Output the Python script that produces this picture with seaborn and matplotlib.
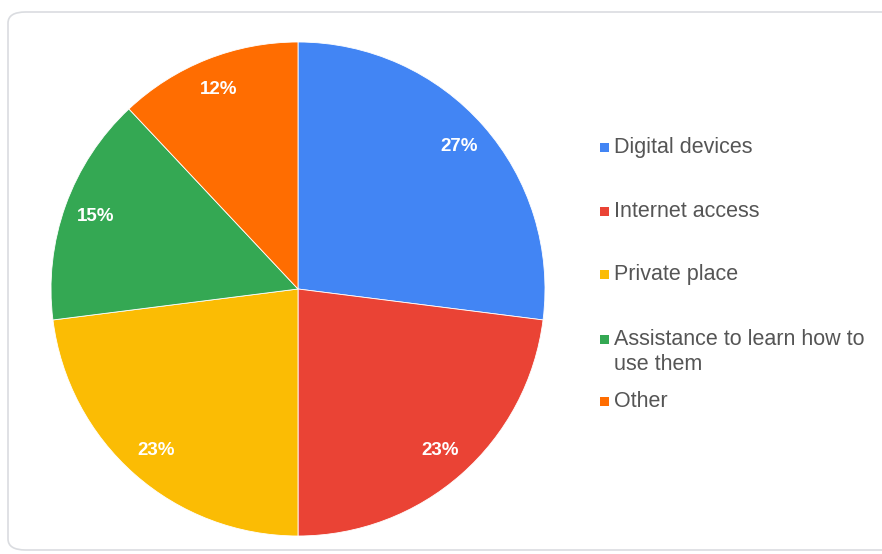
import matplotlib
matplotlib.use("Agg")
import matplotlib.pyplot as plt
from matplotlib.patches import FancyBboxPatch, Rectangle
import seaborn as sns

categories = ["Digital devices", "Internet access", "Private place",
              "Assistance to learn how to\nuse them", "Other"]
shares = [27, 23, 23, 15, 12]
colors = ["#4285F4", "#EA4335", "#FBBC04", "#34A853", "#FF6D01"]

sns.set_theme(style="white")
plt.rcParams["font.family"] = ["Liberation Sans", "DejaVu Sans"]

W, H = 882, 554
fig = plt.figure(figsize=(W / 100, H / 100), dpi=100)
fig.patch.set_facecolor("white")

# rounded card border behind everything
card = FancyBboxPatch((8 / W, 4 / H), (W + 20) / W, 538 / H,
                      boxstyle="round,pad=0,rounding_size=0.02",
                      transform=fig.transFigure, facecolor="white",
                      edgecolor="#dadce0", linewidth=1.2, zorder=-5)
fig.patches.append(card)

cx, cy, r = 298, 289, 247
ax = fig.add_axes([(cx - r) / W, (H - cy - r) / H, 2 * r / W, 2 * r / H])
ax.set_zorder(2)
ax.patch.set_alpha(0)
wedges, texts, autotexts = ax.pie(
    shares, colors=colors, startangle=90, counterclock=False,
    autopct="%d%%", pctdistance=0.87, radius=1,
    wedgeprops=dict(edgecolor="white", linewidth=0.6),
    textprops=dict(color="white", fontsize=13.5, fontweight="bold"))
ax.set_xlim(-1, 1)
ax.set_ylim(-1, 1)
ax.set_aspect("equal")
ax.axis("off")

# legend entries
leg_x = 604
leg_y = [147, 211, 274, 339, 401]
for lab, col, y in zip(categories, colors, leg_y):
    fig.patches.append(Rectangle(((leg_x - 4.5) / W, (H - y - 4.5) / H), 9 / W, 9 / H,
                                 transform=fig.transFigure, facecolor=col,
                                 edgecolor="none", zorder=3))
    fig.text((leg_x + 10) / W, (H - y + 10) / H, lab, fontsize=15.5,
             color="#555555", va="top", ha="left", linespacing=1.25)

fig.savefig("out.png", dpi=100)
